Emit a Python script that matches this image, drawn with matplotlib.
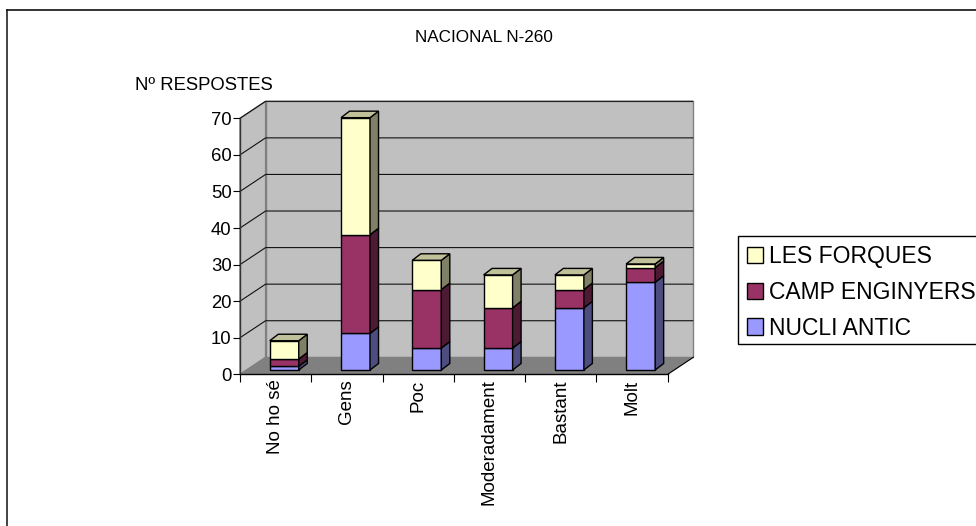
import matplotlib
matplotlib.use("Agg")
import matplotlib.pyplot as plt
from matplotlib.patches import Polygon, Patch, Rectangle
from matplotlib.lines import Line2D

plt.rcParams['font.family'] = ['Liberation Sans', 'DejaVu Sans']

categories = ["No ho sé", "Gens", "Poc", "Moderadament", "Bastant", "Molt"]
nucli_antic = [1, 10, 6, 6, 17, 24]
camp_enginyers = [2, 27, 16, 11, 5, 4]
les_forques = [5, 32, 8, 9, 4, 1]
series_names = ["NUCLI ANTIC", "CAMP ENGINYERS", "LES FORQUES"]
y_ticks = [0, 10, 20, 30, 40, 50, 60, 70]

W, H = 976, 526
front_c = ["#9999FF", "#993366", "#FFFFCC"]
side_c = ["#4D4D80", "#4D1A33", "#808066"]
top_c = "#C0C09A"

fig = plt.figure(figsize=(W / 100, H / 100), dpi=100, facecolor="white")
L, R, T, B = 240.0, 667.7, 118.3, 374.3
ax = fig.add_axes([L / W, 1 - B / H, (R - L) / W, (B - T) / H])
ax.set_xlim(0, 6)
ax.set_ylim(0, 70)
ax.patch.set_visible(False)

ux = (R - L) / 6       # pixels per category
uy = (B - T) / 70      # pixels per value unit
wx, wy = 25.6 / ux, 17.0 / uy      # depth of the chart box
ox, oy = 8.6 / ux, 4.3 / uy        # bar offset inside the box
dx, dy = 8.5 / ux, 6.5 / uy        # depth of a bar
bw = 29.0 / ux


def poly(pts, fc, ec="none", lw=0.0, z=1.0):
    ax.add_patch(Polygon(pts, closed=True, facecolor=fc, edgecolor=ec,
                         linewidth=lw, zorder=z, clip_on=False, joinstyle="miter"))


# walls and floor
poly([(wx, wy), (6 + wx, wy), (6 + wx, 70 + wy), (wx, 70 + wy)], "#C0C0C0", "#808080", 1.0, 0.5)
poly([(0, 0), (wx, wy), (wx, 70 + wy), (0, 70)], "#C0C0C0", "#808080", 1.0, 0.6)
for v in y_ticks[1:]:
    col = "#111111"
    ax.plot([0, wx, 6 + wx], [v, v + wy, v + wy], color=col, lw=0.8, zorder=0.8, clip_on=False,
            solid_capstyle="butt", solid_joinstyle="miter")
poly([(0, 0), (6, 0), (6 + wx, wy), (wx, wy)], "#808080", "#808080", 0.5, 1.0)
ax.plot([6, 6 + wx], [0, wy], color="black", lw=0.8, zorder=1.1, clip_on=False)

# stacked bars
stack = [nucli_antic, camp_enginyers, les_forques]
base = [0.0] * len(categories)
for s, vals in enumerate(stack):
    for i, v in enumerate(vals):
        x0 = i + 0.5 + ox - bw / 2
        x1 = x0 + bw
        b = base[i] + oy
        t = b + v
        ax.bar(x0, v, width=bw, bottom=b, align="edge", color=front_c[s], edgecolor="black",
               linewidth=1.0, zorder=3, clip_on=False)
        poly([(x1, b), (x1 + dx, b + dy), (x1 + dx, t + dy), (x1, t)], side_c[s], "black", 1.0, 3)
        if s == len(stack) - 1:
            poly([(x0, t), (x0 + dx, t + dy), (x1 + dx, t + dy), (x1, t)], top_c, "black", 1.0, 3)
        base[i] += v

# axes
for sp in ("top", "right"):
    ax.spines[sp].set_visible(False)
ax.spines["left"].set_color("#333333")
ax.spines["left"].set_linewidth(1.0)
ax.spines["bottom"].set_linewidth(1.0)
ax.set_yticks(y_ticks)
ax.tick_params(axis="y", length=5, width=0.8, pad=1, labelsize=13.3)
ax.set_xticks(range(7))
ax.set_xticklabels([])
ax.tick_params(axis="x", which="major", length=6, width=0.8)
ax.set_xticks([i + 0.5 for i in range(6)], minor=True)
ax.set_xticklabels(categories, minor=True, rotation=90, fontsize=13.5, ha="center", va="top")
ax.tick_params(axis="x", which="minor", length=0, pad=3.7)

# titles
fig.text(484 / W, 1 - 38 / H, "NACIONAL N-260", fontsize=12.3, ha="center", va="center")
fig.text(135 / W, 1 - 85 / H, "Nº RESPOSTES", fontsize=13.3, ha="left", va="center")

# chart frame (top and left only are inside the image)
fig.add_artist(Line2D([7 / W, 7 / W], [0, 1 - 10 / H], color="#222222", lw=1.2, transform=fig.transFigure))
fig.add_artist(Line2D([7 / W, 1], [1 - 10 / H, 1 - 10 / H], color="#111111", lw=1.2, transform=fig.transFigure))

# legend frame, running past the right edge of the image
fig.add_artist(Rectangle((738 / W, 1 - 344 / H), 260 / W, 108 / H, facecolor="white", edgecolor="black",
                         linewidth=1.0, transform=fig.transFigure, zorder=2))

# legend
handles = [Patch(facecolor=front_c[s], edgecolor="black", linewidth=1.0, label=series_names[s])
           for s in (2, 1, 0)]
leg = fig.legend(handles=handles, loc="upper left", bbox_to_anchor=(737 / W, 1 - 235 / H),
                 fontsize=16.5, frameon=False, borderaxespad=0, borderpad=0.45,
                 handlelength=0.7, handleheight=0.7, handletextpad=0.26, labelspacing=0.55)
leg.set_zorder(3)

fig.savefig("out.png", dpi=100, facecolor="white")
